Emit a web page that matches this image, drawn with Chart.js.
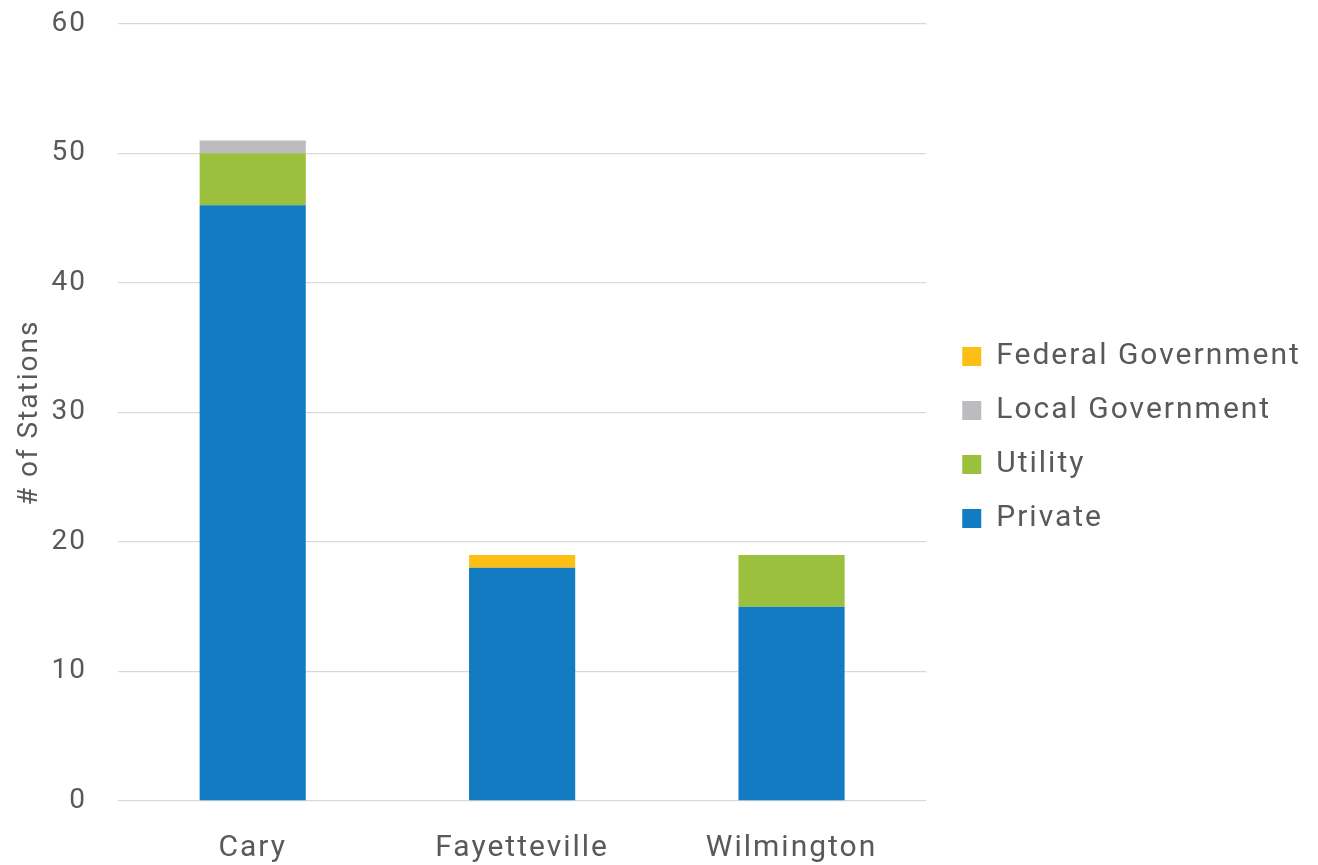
<!DOCTYPE html>
<html>
<head>
<meta charset="utf-8">
<script src="https://cdn.jsdelivr.net/npm/chart.js@4"></script>
<style>
  html, body { margin: 0; padding: 0; background: #fff; }
  #wrap { width: 1318px; height: 865px; }
</style>
</head>
<body>
<div id="wrap"><canvas id="chart"></canvas></div>
<script>
const cities = ["Cary", "Fayetteville", "Wilmington"];
const privateStations = [46, 18, 15];
const utilityStations = [4, 0, 4];
const localGovStations = [1, 0, 0];
const federalGovStations = [0, 1, 0];
const yTicks = [0, 10, 20, 30, 40, 50, 60];

const TEXT = "#595959";
const FONT = "Roboto";
// extra room reserved for the legend, and where its items are nudged to
const LEGEND_EXTRA = 58;
const LEGEND_DX = 12;
const LEGEND_DY = -6;

// wider letter spacing (closer to the DIN look of the original) + legend placement
const tweaks = {
  id: "tweaks",
  beforeUpdate(chart) {
    chart.ctx.letterSpacing = "2px";
    const lg = chart.legend;
    if (lg && !lg._patched) {
      lg._patched = true;
      const fit = lg.fit;
      lg.fit = function () {
        fit.apply(this, arguments);
        this.width += LEGEND_EXTRA;
      };
    }
  },
  afterLayout(chart) {
    const lg = chart.legend;
    lg.left += LEGEND_DX;
    lg.top += LEGEND_DY;
    lg.bottom += LEGEND_DY;
  },
  beforeDraw(chart) {
    chart.ctx.letterSpacing = "2px";
  }
};

new Chart(document.getElementById("chart"), {
  type: "bar",
  data: {
    labels: cities,
    datasets: [
      { label: "Private", data: privateStations, backgroundColor: "#127bc2" },
      { label: "Utility", data: utilityStations, backgroundColor: "#9bc03d" },
      { label: "Local Government", data: localGovStations, backgroundColor: "#bcbcbe" },
      { label: "Federal Government", data: federalGovStations, backgroundColor: "#fdbf13" }
    ]
  },
  plugins: [tweaks],
  options: {
    responsive: true,
    maintainAspectRatio: false,
    animation: false,
    layout: { padding: { top: 0, right: 10, left: 13, bottom: -22 } },
    datasets: {
      bar: { categoryPercentage: 1, barPercentage: 0.394 }
    },
    scales: {
      x: {
        stacked: true,
        grid: { display: false },
        border: { display: false },
        ticks: { color: TEXT, font: { family: FONT, size: 30 }, padding: 21 }
      },
      y: {
        stacked: true,
        min: yTicks[0],
        max: yTicks[yTicks.length - 1],
        afterBuildTicks(scale) {
          scale.ticks = yTicks.map(v => ({ value: v }));
        },
        afterFit(scale) {
          scale.width = 105;
        },
        ticks: { color: TEXT, font: { family: FONT, size: 28 }, padding: 7 },
        grid: {
          color: "#d9d9d9",
          lineWidth: 1.3,
          drawTicks: true,
          tickLength: 24,
          tickColor: "rgba(0,0,0,0)"
        },
        border: { display: false },
        title: {
          display: true,
          text: "# of Stations",
          color: TEXT,
          font: { family: FONT, size: 28 },
          padding: 0
        }
      }
    },
    plugins: {
      tooltip: { enabled: false },
      legend: {
        position: "right",
        reverse: true,
        labels: {
          color: TEXT,
          font: { family: FONT, size: 30 },
          boxWidth: 19,
          boxHeight: 19,
          padding: 24
        }
      }
    }
  }
});
</script>
</body>
</html>
